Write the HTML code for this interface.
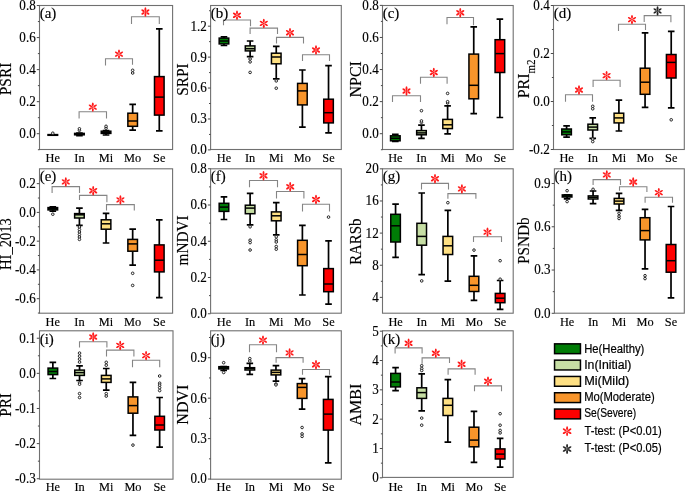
<!DOCTYPE html>
<html><head><meta charset="utf-8"><style>
html,body{margin:0;padding:0;background:#fff;}
svg{display:block;}
text{font-family:"Liberation Serif", serif;fill:#000;stroke:#000;stroke-width:0.15px;}
.sans{stroke-width:0.2px;}
svg{will-change:transform;}
.sans{font-family:"Liberation Sans", sans-serif;}
</style></head><body>
<svg width="685" height="491" viewBox="0 0 685 491">
<rect width="685" height="491" fill="#fff"/>
<path d="M52.81 135.2V135.3M52.81 134.6V134.8M49.51 135.2H56.11M49.51 134.8H56.11" stroke="#000" stroke-width="1.7" fill="none"/>
<rect x="48.01" y="134.6" width="9.6" height="0.7" fill="#007c06" stroke="#000" stroke-width="1.5"/>
<path d="M48.01 135H57.61" stroke="#000" stroke-width="1.5"/>
<circle cx="52.81" cy="133.2" r="1.3" fill="#fff" stroke="#1a1a1a" stroke-width="0.95"/>
<path d="M79.43 135.6V134.8M79.43 133.4V133M76.13 135.6H82.73M76.13 133H82.73" stroke="#000" stroke-width="1.7" fill="none"/>
<rect x="74.63" y="133.4" width="9.6" height="1.4" fill="#c6dea4" stroke="#000" stroke-width="1.5"/>
<path d="M74.63 134.1H84.23" stroke="#000" stroke-width="1.5"/>
<circle cx="79.43" cy="130.3" r="1.3" fill="#fff" stroke="#1a1a1a" stroke-width="0.95"/>
<circle cx="79.43" cy="128.8" r="1.3" fill="#fff" stroke="#1a1a1a" stroke-width="0.95"/>
<path d="M106.05 135V133.4M106.05 131.2V130.5M102.75 135H109.35M102.75 130.5H109.35" stroke="#000" stroke-width="1.7" fill="none"/>
<rect x="101.25" y="131.2" width="9.6" height="2.2" fill="#fee083" stroke="#000" stroke-width="1.5"/>
<path d="M101.25 132.3H110.85" stroke="#000" stroke-width="1.5"/>
<circle cx="106.05" cy="128.2" r="1.3" fill="#fff" stroke="#1a1a1a" stroke-width="0.95"/>
<circle cx="106.05" cy="126.3" r="1.3" fill="#fff" stroke="#1a1a1a" stroke-width="0.95"/>
<path d="M132.67 130.2V126.3M132.67 113.2V104.4M129.37 130.2H135.97M129.37 104.4H135.97" stroke="#000" stroke-width="1.7" fill="none"/>
<rect x="127.87" y="113.2" width="9.6" height="13.1" fill="#f8952b" stroke="#000" stroke-width="1.5"/>
<path d="M127.87 121H137.47" stroke="#000" stroke-width="1.5"/>
<circle cx="132.67" cy="73" r="1.3" fill="#fff" stroke="#1a1a1a" stroke-width="0.95"/>
<circle cx="132.67" cy="70.3" r="1.3" fill="#fff" stroke="#1a1a1a" stroke-width="0.95"/>
<path d="M159.29 130.8V115.1M159.29 76.6V28.9M155.99 130.8H162.59M155.99 28.9H162.59" stroke="#000" stroke-width="1.7" fill="none"/>
<rect x="154.49" y="76.6" width="9.6" height="38.5" fill="#fe0000" stroke="#000" stroke-width="1.5"/>
<path d="M154.49 97.1H164.09" stroke="#000" stroke-width="1.5"/>
<path d="M79.1 118.5V111.8H106.5V118.5" stroke="#858585" stroke-width="1.1" fill="none"/>
<g transform="translate(92.8 107.1)" fill="#ff1a1a"><ellipse cx="2.76" cy="0" rx="1.93" ry="0.95" transform="rotate(90)"/><ellipse cx="2.76" cy="0" rx="1.93" ry="0.95" transform="rotate(150)"/><ellipse cx="2.76" cy="0" rx="1.93" ry="0.95" transform="rotate(210)"/><ellipse cx="2.76" cy="0" rx="1.93" ry="0.95" transform="rotate(270)"/><ellipse cx="2.76" cy="0" rx="1.93" ry="0.95" transform="rotate(330)"/><ellipse cx="2.76" cy="0" rx="1.93" ry="0.95" transform="rotate(30)"/><circle r="0.9"/></g>
<path d="M105.5 65.6V58.8H132.5V64.7" stroke="#858585" stroke-width="1.1" fill="none"/>
<g transform="translate(119 54.1)" fill="#ff1a1a"><ellipse cx="2.76" cy="0" rx="1.93" ry="0.95" transform="rotate(90)"/><ellipse cx="2.76" cy="0" rx="1.93" ry="0.95" transform="rotate(150)"/><ellipse cx="2.76" cy="0" rx="1.93" ry="0.95" transform="rotate(210)"/><ellipse cx="2.76" cy="0" rx="1.93" ry="0.95" transform="rotate(270)"/><ellipse cx="2.76" cy="0" rx="1.93" ry="0.95" transform="rotate(330)"/><ellipse cx="2.76" cy="0" rx="1.93" ry="0.95" transform="rotate(30)"/><circle r="0.9"/></g>
<path d="M131.5 24V16.7H159.3V24" stroke="#858585" stroke-width="1.1" fill="none"/>
<g transform="translate(145.4 12)" fill="#ff1a1a"><ellipse cx="2.76" cy="0" rx="1.93" ry="0.95" transform="rotate(90)"/><ellipse cx="2.76" cy="0" rx="1.93" ry="0.95" transform="rotate(150)"/><ellipse cx="2.76" cy="0" rx="1.93" ry="0.95" transform="rotate(210)"/><ellipse cx="2.76" cy="0" rx="1.93" ry="0.95" transform="rotate(270)"/><ellipse cx="2.76" cy="0" rx="1.93" ry="0.95" transform="rotate(330)"/><ellipse cx="2.76" cy="0" rx="1.93" ry="0.95" transform="rotate(30)"/><circle r="0.9"/></g>
<rect x="39.5" y="5.5" width="133.1" height="144" fill="none" stroke="#707070" stroke-width="1.1"/>
<text transform="translate(35.7 138.1) scale(0.97 1.06)" text-anchor="end" class="tk" font-size="13.5">0.0</text>
<text transform="translate(35.7 106.06) scale(0.97 1.06)" text-anchor="end" class="tk" font-size="13.5">0.2</text>
<text transform="translate(35.7 74.02) scale(0.97 1.06)" text-anchor="end" class="tk" font-size="13.5">0.4</text>
<text transform="translate(35.7 41.98) scale(0.97 1.06)" text-anchor="end" class="tk" font-size="13.5">0.6</text>
<text transform="translate(35.7 9.94) scale(0.97 1.06)" text-anchor="end" class="tk" font-size="13.5">0.8</text>
<path d="M36.8 133.7H39.5M36.8 101.66H39.5M36.8 69.62H39.5M36.8 37.58H39.5M36.8 5.54H39.5M37.9 149.72H39.5M37.9 117.68H39.5M37.9 85.64H39.5M37.9 53.6H39.5M37.9 21.56H39.5" stroke="#4a4a4a" stroke-width="1"/>
<text transform="translate(52.81 162) scale(0.95 1.03)" text-anchor="middle" class="ct" font-size="13">He</text>
<text transform="translate(79.43 162) scale(0.95 1.03)" text-anchor="middle" class="ct" font-size="13">In</text>
<text transform="translate(106.05 162) scale(0.95 1.03)" text-anchor="middle" class="ct" font-size="13">Mi</text>
<text transform="translate(132.67 162) scale(0.95 1.03)" text-anchor="middle" class="ct" font-size="13">Mo</text>
<text transform="translate(159.29 162) scale(0.95 1.03)" text-anchor="middle" class="ct" font-size="13">Se</text>
<text transform="translate(39.7 17.8) scale(1.0 0.98)" class="lb" font-size="15">(a)</text>
<text transform="translate(10.6 78.95) rotate(-90) scale(1.0 1.07)" text-anchor="middle" class="ti" font-size="16" textLength="32.45" lengthAdjust="spacingAndGlyphs">PSRI</text>
<path d="M223.97 45.5V43.9M223.97 38.1V36.8M220.67 45.5H227.27M220.67 36.8H227.27" stroke="#000" stroke-width="1.7" fill="none"/>
<rect x="219.17" y="38.1" width="9.6" height="5.8" fill="#007c06" stroke="#000" stroke-width="1.5"/>
<path d="M219.17 41H228.77" stroke="#000" stroke-width="1.5"/>
<path d="M250.11 56.6V50.9M250.11 45.9V41M246.81 56.6H253.41M246.81 41H253.41" stroke="#000" stroke-width="1.7" fill="none"/>
<rect x="245.31" y="45.9" width="9.6" height="5" fill="#c6dea4" stroke="#000" stroke-width="1.5"/>
<path d="M245.31 48.7H254.91" stroke="#000" stroke-width="1.5"/>
<circle cx="250.11" cy="59" r="1.3" fill="#fff" stroke="#1a1a1a" stroke-width="0.95"/>
<circle cx="250.11" cy="61.9" r="1.3" fill="#fff" stroke="#1a1a1a" stroke-width="0.95"/>
<circle cx="250.11" cy="72.4" r="1.3" fill="#fff" stroke="#1a1a1a" stroke-width="0.95"/>
<path d="M276.25 78.9V63.8M276.25 53.2V46.4M272.95 78.9H279.55M272.95 46.4H279.55" stroke="#000" stroke-width="1.7" fill="none"/>
<rect x="271.45" y="53.2" width="9.6" height="10.6" fill="#fee083" stroke="#000" stroke-width="1.5"/>
<path d="M271.45 57H281.05" stroke="#000" stroke-width="1.5"/>
<circle cx="276.25" cy="80.9" r="1.3" fill="#fff" stroke="#1a1a1a" stroke-width="0.95"/>
<circle cx="276.25" cy="88.2" r="1.3" fill="#fff" stroke="#1a1a1a" stroke-width="0.95"/>
<path d="M302.39 127.1V104.9M302.39 83.4V70M299.09 127.1H305.69M299.09 70H305.69" stroke="#000" stroke-width="1.7" fill="none"/>
<rect x="297.59" y="83.4" width="9.6" height="21.5" fill="#f8952b" stroke="#000" stroke-width="1.5"/>
<path d="M297.59 90.9H307.19" stroke="#000" stroke-width="1.5"/>
<path d="M328.53 132.9V122.9M328.53 99.2V65.7M325.23 132.9H331.83M325.23 65.7H331.83" stroke="#000" stroke-width="1.7" fill="none"/>
<rect x="323.73" y="99.2" width="9.6" height="23.7" fill="#fe0000" stroke="#000" stroke-width="1.5"/>
<path d="M323.73 112.7H333.33" stroke="#000" stroke-width="1.5"/>
<path d="M223.5 25.2V20H250.5V26.2" stroke="#858585" stroke-width="1.1" fill="none"/>
<g transform="translate(237 15.3)" fill="#ff1a1a"><ellipse cx="2.76" cy="0" rx="1.93" ry="0.95" transform="rotate(90)"/><ellipse cx="2.76" cy="0" rx="1.93" ry="0.95" transform="rotate(150)"/><ellipse cx="2.76" cy="0" rx="1.93" ry="0.95" transform="rotate(210)"/><ellipse cx="2.76" cy="0" rx="1.93" ry="0.95" transform="rotate(270)"/><ellipse cx="2.76" cy="0" rx="1.93" ry="0.95" transform="rotate(330)"/><ellipse cx="2.76" cy="0" rx="1.93" ry="0.95" transform="rotate(30)"/><circle r="0.9"/></g>
<path d="M250.1 33.9V28.1H277.5V33.9" stroke="#858585" stroke-width="1.1" fill="none"/>
<g transform="translate(263.8 23.4)" fill="#ff1a1a"><ellipse cx="2.76" cy="0" rx="1.93" ry="0.95" transform="rotate(90)"/><ellipse cx="2.76" cy="0" rx="1.93" ry="0.95" transform="rotate(150)"/><ellipse cx="2.76" cy="0" rx="1.93" ry="0.95" transform="rotate(210)"/><ellipse cx="2.76" cy="0" rx="1.93" ry="0.95" transform="rotate(270)"/><ellipse cx="2.76" cy="0" rx="1.93" ry="0.95" transform="rotate(330)"/><ellipse cx="2.76" cy="0" rx="1.93" ry="0.95" transform="rotate(30)"/><circle r="0.9"/></g>
<path d="M276.5 43.5V37.4H303.5V43.5" stroke="#858585" stroke-width="1.1" fill="none"/>
<g transform="translate(290 32.7)" fill="#ff1a1a"><ellipse cx="2.76" cy="0" rx="1.93" ry="0.95" transform="rotate(90)"/><ellipse cx="2.76" cy="0" rx="1.93" ry="0.95" transform="rotate(150)"/><ellipse cx="2.76" cy="0" rx="1.93" ry="0.95" transform="rotate(210)"/><ellipse cx="2.76" cy="0" rx="1.93" ry="0.95" transform="rotate(270)"/><ellipse cx="2.76" cy="0" rx="1.93" ry="0.95" transform="rotate(330)"/><ellipse cx="2.76" cy="0" rx="1.93" ry="0.95" transform="rotate(30)"/><circle r="0.9"/></g>
<path d="M302.5 60.9V54.7H329.5V60.9" stroke="#858585" stroke-width="1.1" fill="none"/>
<g transform="translate(316 50)" fill="#ff1a1a"><ellipse cx="2.76" cy="0" rx="1.93" ry="0.95" transform="rotate(90)"/><ellipse cx="2.76" cy="0" rx="1.93" ry="0.95" transform="rotate(150)"/><ellipse cx="2.76" cy="0" rx="1.93" ry="0.95" transform="rotate(210)"/><ellipse cx="2.76" cy="0" rx="1.93" ry="0.95" transform="rotate(270)"/><ellipse cx="2.76" cy="0" rx="1.93" ry="0.95" transform="rotate(330)"/><ellipse cx="2.76" cy="0" rx="1.93" ry="0.95" transform="rotate(30)"/><circle r="0.9"/></g>
<rect x="210.6" y="5.5" width="130.7" height="144" fill="none" stroke="#707070" stroke-width="1.1"/>
<text transform="translate(206.8 154.3) scale(0.97 1.06)" text-anchor="end" class="tk" font-size="13.5">0.0</text>
<text transform="translate(206.8 123.37) scale(0.97 1.06)" text-anchor="end" class="tk" font-size="13.5">0.3</text>
<text transform="translate(206.8 92.44) scale(0.97 1.06)" text-anchor="end" class="tk" font-size="13.5">0.6</text>
<text transform="translate(206.8 61.51) scale(0.97 1.06)" text-anchor="end" class="tk" font-size="13.5">0.9</text>
<text transform="translate(206.8 30.58) scale(0.97 1.06)" text-anchor="end" class="tk" font-size="13.5">1.2</text>
<path d="M207.9 149.9H210.6M207.9 118.97H210.6M207.9 88.04H210.6M207.9 57.11H210.6M207.9 26.18H210.6M209 134.44H210.6M209 103.51H210.6M209 72.58H210.6M209 41.65H210.6M209 10.72H210.6" stroke="#4a4a4a" stroke-width="1"/>
<text transform="translate(223.97 162) scale(0.95 1.03)" text-anchor="middle" class="ct" font-size="13">He</text>
<text transform="translate(250.11 162) scale(0.95 1.03)" text-anchor="middle" class="ct" font-size="13">In</text>
<text transform="translate(276.25 162) scale(0.95 1.03)" text-anchor="middle" class="ct" font-size="13">Mi</text>
<text transform="translate(302.39 162) scale(0.95 1.03)" text-anchor="middle" class="ct" font-size="13">Mo</text>
<text transform="translate(328.53 162) scale(0.95 1.03)" text-anchor="middle" class="ct" font-size="13">Se</text>
<text transform="translate(210.8 17.8) scale(1.0 0.98)" class="lb" font-size="15">(b)</text>
<text transform="translate(187.5 79.5) rotate(-90) scale(1.0 1.07)" text-anchor="middle" class="ti" font-size="16" textLength="32.35" lengthAdjust="spacingAndGlyphs">SRPI</text>
<path d="M395.32 141.5V140.8M395.32 135.8V134.4M392.02 141.5H398.62M392.02 134.4H398.62" stroke="#000" stroke-width="1.7" fill="none"/>
<rect x="390.52" y="135.8" width="9.6" height="5" fill="#007c06" stroke="#000" stroke-width="1.5"/>
<path d="M390.52 138.3H400.12" stroke="#000" stroke-width="1.5"/>
<path d="M421.46 138.3V134.8M421.46 130.6V125.2M418.16 138.3H424.76M418.16 125.2H424.76" stroke="#000" stroke-width="1.7" fill="none"/>
<rect x="416.66" y="130.6" width="9.6" height="4.2" fill="#c6dea4" stroke="#000" stroke-width="1.5"/>
<path d="M416.66 132.9H426.26" stroke="#000" stroke-width="1.5"/>
<circle cx="421.46" cy="122.3" r="1.3" fill="#fff" stroke="#1a1a1a" stroke-width="0.95"/>
<circle cx="421.46" cy="120.9" r="1.3" fill="#fff" stroke="#1a1a1a" stroke-width="0.95"/>
<circle cx="421.46" cy="110.7" r="1.3" fill="#fff" stroke="#1a1a1a" stroke-width="0.95"/>
<path d="M447.6 133.9V128.6M447.6 119.4V105.9M444.3 133.9H450.9M444.3 105.9H450.9" stroke="#000" stroke-width="1.7" fill="none"/>
<rect x="442.8" y="119.4" width="9.6" height="9.2" fill="#fee083" stroke="#000" stroke-width="1.5"/>
<path d="M442.8 124.8H452.4" stroke="#000" stroke-width="1.5"/>
<circle cx="447.6" cy="103" r="1.3" fill="#fff" stroke="#1a1a1a" stroke-width="0.95"/>
<circle cx="447.6" cy="101.7" r="1.3" fill="#fff" stroke="#1a1a1a" stroke-width="0.95"/>
<circle cx="447.6" cy="93.4" r="1.3" fill="#fff" stroke="#1a1a1a" stroke-width="0.95"/>
<path d="M473.74 113.6V98.8M473.74 54.1V26.8M470.44 113.6H477.04M470.44 26.8H477.04" stroke="#000" stroke-width="1.7" fill="none"/>
<rect x="468.94" y="54.1" width="9.6" height="44.7" fill="#f8952b" stroke="#000" stroke-width="1.5"/>
<path d="M468.94 85.3H478.54" stroke="#000" stroke-width="1.5"/>
<path d="M499.88 117.5V72.5M499.88 39.7V19.1M496.58 117.5H503.18M496.58 19.1H503.18" stroke="#000" stroke-width="1.7" fill="none"/>
<rect x="495.08" y="39.7" width="9.6" height="32.8" fill="#fe0000" stroke="#000" stroke-width="1.5"/>
<path d="M495.08 53.6H504.68" stroke="#000" stroke-width="1.5"/>
<path d="M392.5 102V95.7H420.5V102" stroke="#858585" stroke-width="1.1" fill="none"/>
<g transform="translate(406.5 91)" fill="#ff1a1a"><ellipse cx="2.76" cy="0" rx="1.93" ry="0.95" transform="rotate(90)"/><ellipse cx="2.76" cy="0" rx="1.93" ry="0.95" transform="rotate(150)"/><ellipse cx="2.76" cy="0" rx="1.93" ry="0.95" transform="rotate(210)"/><ellipse cx="2.76" cy="0" rx="1.93" ry="0.95" transform="rotate(270)"/><ellipse cx="2.76" cy="0" rx="1.93" ry="0.95" transform="rotate(330)"/><ellipse cx="2.76" cy="0" rx="1.93" ry="0.95" transform="rotate(30)"/><circle r="0.9"/></g>
<path d="M420.5 83.7V77.2H447.1V83.7" stroke="#858585" stroke-width="1.1" fill="none"/>
<g transform="translate(433.8 72.5)" fill="#ff1a1a"><ellipse cx="2.76" cy="0" rx="1.93" ry="0.95" transform="rotate(90)"/><ellipse cx="2.76" cy="0" rx="1.93" ry="0.95" transform="rotate(150)"/><ellipse cx="2.76" cy="0" rx="1.93" ry="0.95" transform="rotate(210)"/><ellipse cx="2.76" cy="0" rx="1.93" ry="0.95" transform="rotate(270)"/><ellipse cx="2.76" cy="0" rx="1.93" ry="0.95" transform="rotate(330)"/><ellipse cx="2.76" cy="0" rx="1.93" ry="0.95" transform="rotate(30)"/><circle r="0.9"/></g>
<path d="M447 24.3V17.5H473.5V25.2" stroke="#858585" stroke-width="1.1" fill="none"/>
<g transform="translate(460.25 12.8)" fill="#ff1a1a"><ellipse cx="2.76" cy="0" rx="1.93" ry="0.95" transform="rotate(90)"/><ellipse cx="2.76" cy="0" rx="1.93" ry="0.95" transform="rotate(150)"/><ellipse cx="2.76" cy="0" rx="1.93" ry="0.95" transform="rotate(210)"/><ellipse cx="2.76" cy="0" rx="1.93" ry="0.95" transform="rotate(270)"/><ellipse cx="2.76" cy="0" rx="1.93" ry="0.95" transform="rotate(330)"/><ellipse cx="2.76" cy="0" rx="1.93" ry="0.95" transform="rotate(30)"/><circle r="0.9"/></g>
<rect x="382.5" y="5.5" width="130.7" height="144" fill="none" stroke="#707070" stroke-width="1.1"/>
<text transform="translate(378.7 138.1) scale(0.97 1.06)" text-anchor="end" class="tk" font-size="13.5">0.0</text>
<text transform="translate(378.7 106.02) scale(0.97 1.06)" text-anchor="end" class="tk" font-size="13.5">0.2</text>
<text transform="translate(378.7 73.94) scale(0.97 1.06)" text-anchor="end" class="tk" font-size="13.5">0.4</text>
<text transform="translate(378.7 41.86) scale(0.97 1.06)" text-anchor="end" class="tk" font-size="13.5">0.6</text>
<text transform="translate(378.7 9.78) scale(0.97 1.06)" text-anchor="end" class="tk" font-size="13.5">0.8</text>
<path d="M379.8 133.7H382.5M379.8 101.62H382.5M379.8 69.54H382.5M379.8 37.46H382.5M379.8 5.38H382.5M380.9 149.74H382.5M380.9 117.66H382.5M380.9 85.58H382.5M380.9 53.5H382.5M380.9 21.42H382.5" stroke="#4a4a4a" stroke-width="1"/>
<text transform="translate(395.32 162) scale(0.95 1.03)" text-anchor="middle" class="ct" font-size="13">He</text>
<text transform="translate(421.46 162) scale(0.95 1.03)" text-anchor="middle" class="ct" font-size="13">In</text>
<text transform="translate(447.6 162) scale(0.95 1.03)" text-anchor="middle" class="ct" font-size="13">Mi</text>
<text transform="translate(473.74 162) scale(0.95 1.03)" text-anchor="middle" class="ct" font-size="13">Mo</text>
<text transform="translate(499.88 162) scale(0.95 1.03)" text-anchor="middle" class="ct" font-size="13">Se</text>
<text transform="translate(382.7 17.8) scale(1.0 0.98)" class="lb" font-size="15">(c)</text>
<text transform="translate(360.9 79.35) rotate(-90) scale(1.0 1.07)" text-anchor="middle" class="ti" font-size="16">NPCI</text>
<path d="M566.58 137.1V134.8M566.58 129V125.8M563.28 137.1H569.88M563.28 125.8H569.88" stroke="#000" stroke-width="1.7" fill="none"/>
<rect x="561.78" y="129" width="9.6" height="5.8" fill="#007c06" stroke="#000" stroke-width="1.5"/>
<path d="M561.78 131.9H571.38" stroke="#000" stroke-width="1.5"/>
<path d="M592.74 138.3V130M592.74 124.2V117.9M589.44 138.3H596.04M589.44 117.9H596.04" stroke="#000" stroke-width="1.7" fill="none"/>
<rect x="587.94" y="124.2" width="9.6" height="5.8" fill="#c6dea4" stroke="#000" stroke-width="1.5"/>
<path d="M587.94 127.1H597.54" stroke="#000" stroke-width="1.5"/>
<circle cx="592.74" cy="106.3" r="1.3" fill="#fff" stroke="#1a1a1a" stroke-width="0.95"/>
<circle cx="592.74" cy="108.8" r="1.3" fill="#fff" stroke="#1a1a1a" stroke-width="0.95"/>
<circle cx="592.74" cy="139.1" r="1.3" fill="#fff" stroke="#1a1a1a" stroke-width="0.95"/>
<circle cx="592.74" cy="141.6" r="1.3" fill="#fff" stroke="#1a1a1a" stroke-width="0.95"/>
<path d="M618.9 131V122.9M618.9 113.2V100.1M615.6 131H622.2M615.6 100.1H622.2" stroke="#000" stroke-width="1.7" fill="none"/>
<rect x="614.1" y="113.2" width="9.6" height="9.7" fill="#fee083" stroke="#000" stroke-width="1.5"/>
<path d="M614.1 117.9H623.7" stroke="#000" stroke-width="1.5"/>
<path d="M645.06 107.3V94.3M645.06 68.2V32.9M641.76 107.3H648.36M641.76 32.9H648.36" stroke="#000" stroke-width="1.7" fill="none"/>
<rect x="640.26" y="68.2" width="9.6" height="26.1" fill="#f8952b" stroke="#000" stroke-width="1.5"/>
<path d="M640.26 82.2H649.86" stroke="#000" stroke-width="1.5"/>
<path d="M671.22 107.8V78M671.22 54.5V31.4M667.92 107.8H674.52M667.92 31.4H674.52" stroke="#000" stroke-width="1.7" fill="none"/>
<rect x="666.42" y="54.5" width="9.6" height="23.5" fill="#fe0000" stroke="#000" stroke-width="1.5"/>
<path d="M666.42 62.4H676.02" stroke="#000" stroke-width="1.5"/>
<circle cx="671.22" cy="119.8" r="1.3" fill="#fff" stroke="#1a1a1a" stroke-width="0.95"/>
<path d="M565.5 101.7V94.7H592.5V101.7" stroke="#858585" stroke-width="1.1" fill="none"/>
<g transform="translate(579 90)" fill="#ff1a1a"><ellipse cx="2.76" cy="0" rx="1.93" ry="0.95" transform="rotate(90)"/><ellipse cx="2.76" cy="0" rx="1.93" ry="0.95" transform="rotate(150)"/><ellipse cx="2.76" cy="0" rx="1.93" ry="0.95" transform="rotate(210)"/><ellipse cx="2.76" cy="0" rx="1.93" ry="0.95" transform="rotate(270)"/><ellipse cx="2.76" cy="0" rx="1.93" ry="0.95" transform="rotate(330)"/><ellipse cx="2.76" cy="0" rx="1.93" ry="0.95" transform="rotate(30)"/><circle r="0.9"/></g>
<path d="M593.1 87V80.3H620.1V87" stroke="#858585" stroke-width="1.1" fill="none"/>
<g transform="translate(606.6 75.6)" fill="#ff1a1a"><ellipse cx="2.76" cy="0" rx="1.93" ry="0.95" transform="rotate(90)"/><ellipse cx="2.76" cy="0" rx="1.93" ry="0.95" transform="rotate(150)"/><ellipse cx="2.76" cy="0" rx="1.93" ry="0.95" transform="rotate(210)"/><ellipse cx="2.76" cy="0" rx="1.93" ry="0.95" transform="rotate(270)"/><ellipse cx="2.76" cy="0" rx="1.93" ry="0.95" transform="rotate(330)"/><ellipse cx="2.76" cy="0" rx="1.93" ry="0.95" transform="rotate(30)"/><circle r="0.9"/></g>
<path d="M618.5 31V24.3H645.5V30" stroke="#858585" stroke-width="1.1" fill="none"/>
<g transform="translate(632 19.6)" fill="#ff1a1a"><ellipse cx="2.76" cy="0" rx="1.93" ry="0.95" transform="rotate(90)"/><ellipse cx="2.76" cy="0" rx="1.93" ry="0.95" transform="rotate(150)"/><ellipse cx="2.76" cy="0" rx="1.93" ry="0.95" transform="rotate(210)"/><ellipse cx="2.76" cy="0" rx="1.93" ry="0.95" transform="rotate(270)"/><ellipse cx="2.76" cy="0" rx="1.93" ry="0.95" transform="rotate(330)"/><ellipse cx="2.76" cy="0" rx="1.93" ry="0.95" transform="rotate(30)"/><circle r="0.9"/></g>
<path d="M644.2 22V15.6H670.9V22.3" stroke="#858585" stroke-width="1.1" fill="none"/>
<g transform="translate(657.55 10.9)" fill="#222"><ellipse cx="2.76" cy="0" rx="1.93" ry="0.95" transform="rotate(90)"/><ellipse cx="2.76" cy="0" rx="1.93" ry="0.95" transform="rotate(150)"/><ellipse cx="2.76" cy="0" rx="1.93" ry="0.95" transform="rotate(210)"/><ellipse cx="2.76" cy="0" rx="1.93" ry="0.95" transform="rotate(270)"/><ellipse cx="2.76" cy="0" rx="1.93" ry="0.95" transform="rotate(330)"/><ellipse cx="2.76" cy="0" rx="1.93" ry="0.95" transform="rotate(30)"/><circle r="0.9"/></g>
<rect x="553.5" y="5.5" width="130.8" height="144" fill="none" stroke="#707070" stroke-width="1.1"/>
<text transform="translate(549.7 153.9) scale(0.97 1.06)" text-anchor="end" class="tk" font-size="13.5">-0.2</text>
<text transform="translate(549.7 105.9) scale(0.97 1.06)" text-anchor="end" class="tk" font-size="13.5">0.0</text>
<text transform="translate(549.7 57.9) scale(0.97 1.06)" text-anchor="end" class="tk" font-size="13.5">0.2</text>
<text transform="translate(549.7 9.9) scale(0.97 1.06)" text-anchor="end" class="tk" font-size="13.5">0.4</text>
<path d="M550.8 149.5H553.5M550.8 101.5H553.5M550.8 53.5H553.5M550.8 5.5H553.5M551.9 125.5H553.5M551.9 77.5H553.5M551.9 29.5H553.5" stroke="#4a4a4a" stroke-width="1"/>
<text transform="translate(566.58 162) scale(0.95 1.03)" text-anchor="middle" class="ct" font-size="13">He</text>
<text transform="translate(592.74 162) scale(0.95 1.03)" text-anchor="middle" class="ct" font-size="13">In</text>
<text transform="translate(618.9 162) scale(0.95 1.03)" text-anchor="middle" class="ct" font-size="13">Mi</text>
<text transform="translate(645.06 162) scale(0.95 1.03)" text-anchor="middle" class="ct" font-size="13">Mo</text>
<text transform="translate(671.22 162) scale(0.95 1.03)" text-anchor="middle" class="ct" font-size="13">Se</text>
<text transform="translate(553.7 17.8) scale(1.0 0.98)" class="lb" font-size="15">(d)</text>
<text transform="translate(529.3 78.9) rotate(-90) scale(1.0 1.07)" text-anchor="middle" class="ti" font-size="16">PRI<tspan font-size="11" dy="5">m2</tspan></text>
<path d="M52.81 211.2V209.9M52.81 207.6V206.8M49.51 211.2H56.11M49.51 206.8H56.11" stroke="#000" stroke-width="1.7" fill="none"/>
<rect x="48.01" y="207.6" width="9.6" height="2.3" fill="#007c06" stroke="#000" stroke-width="1.5"/>
<path d="M48.01 208.7H57.61" stroke="#000" stroke-width="1.5"/>
<circle cx="52.81" cy="214.2" r="1.3" fill="#fff" stroke="#1a1a1a" stroke-width="0.95"/>
<path d="M79.43 225.3V218M79.43 213.6V208.1M76.13 225.3H82.73M76.13 208.1H82.73" stroke="#000" stroke-width="1.7" fill="none"/>
<rect x="74.63" y="213.6" width="9.6" height="4.4" fill="#c6dea4" stroke="#000" stroke-width="1.5"/>
<path d="M74.63 214.8H84.23" stroke="#000" stroke-width="1.5"/>
<circle cx="79.43" cy="227" r="1.3" fill="#fff" stroke="#1a1a1a" stroke-width="0.95"/>
<circle cx="79.43" cy="229.5" r="1.3" fill="#fff" stroke="#1a1a1a" stroke-width="0.95"/>
<circle cx="79.43" cy="232" r="1.3" fill="#fff" stroke="#1a1a1a" stroke-width="0.95"/>
<circle cx="79.43" cy="234.5" r="1.3" fill="#fff" stroke="#1a1a1a" stroke-width="0.95"/>
<circle cx="79.43" cy="237" r="1.3" fill="#fff" stroke="#1a1a1a" stroke-width="0.95"/>
<circle cx="79.43" cy="239.4" r="1.3" fill="#fff" stroke="#1a1a1a" stroke-width="0.95"/>
<path d="M106.05 243V229.2M106.05 219.8V213.4M102.75 243H109.35M102.75 213.4H109.35" stroke="#000" stroke-width="1.7" fill="none"/>
<rect x="101.25" y="219.8" width="9.6" height="9.4" fill="#fee083" stroke="#000" stroke-width="1.5"/>
<path d="M101.25 223.8H110.85" stroke="#000" stroke-width="1.5"/>
<path d="M132.67 265.1V251.2M132.67 239.4V229.2M129.37 265.1H135.97M129.37 229.2H135.97" stroke="#000" stroke-width="1.7" fill="none"/>
<rect x="127.87" y="239.4" width="9.6" height="11.8" fill="#f8952b" stroke="#000" stroke-width="1.5"/>
<path d="M127.87 243.9H137.47" stroke="#000" stroke-width="1.5"/>
<circle cx="132.67" cy="273.3" r="1.3" fill="#fff" stroke="#1a1a1a" stroke-width="0.95"/>
<circle cx="132.67" cy="285.4" r="1.3" fill="#fff" stroke="#1a1a1a" stroke-width="0.95"/>
<path d="M159.29 297.7V271.9M159.29 244.9V219.8M155.99 297.7H162.59M155.99 219.8H162.59" stroke="#000" stroke-width="1.7" fill="none"/>
<rect x="154.49" y="244.9" width="9.6" height="27" fill="#fe0000" stroke="#000" stroke-width="1.5"/>
<path d="M154.49 260.2H164.09" stroke="#000" stroke-width="1.5"/>
<path d="M52.1 193V186.6H79.5V193" stroke="#858585" stroke-width="1.1" fill="none"/>
<g transform="translate(65.8 181.9)" fill="#ff1a1a"><ellipse cx="2.76" cy="0" rx="1.93" ry="0.95" transform="rotate(90)"/><ellipse cx="2.76" cy="0" rx="1.93" ry="0.95" transform="rotate(150)"/><ellipse cx="2.76" cy="0" rx="1.93" ry="0.95" transform="rotate(210)"/><ellipse cx="2.76" cy="0" rx="1.93" ry="0.95" transform="rotate(270)"/><ellipse cx="2.76" cy="0" rx="1.93" ry="0.95" transform="rotate(330)"/><ellipse cx="2.76" cy="0" rx="1.93" ry="0.95" transform="rotate(30)"/><circle r="0.9"/></g>
<path d="M79.5 200V195.4H106.9V202.2" stroke="#858585" stroke-width="1.1" fill="none"/>
<g transform="translate(93.2 190.7)" fill="#ff1a1a"><ellipse cx="2.76" cy="0" rx="1.93" ry="0.95" transform="rotate(90)"/><ellipse cx="2.76" cy="0" rx="1.93" ry="0.95" transform="rotate(150)"/><ellipse cx="2.76" cy="0" rx="1.93" ry="0.95" transform="rotate(210)"/><ellipse cx="2.76" cy="0" rx="1.93" ry="0.95" transform="rotate(270)"/><ellipse cx="2.76" cy="0" rx="1.93" ry="0.95" transform="rotate(330)"/><ellipse cx="2.76" cy="0" rx="1.93" ry="0.95" transform="rotate(30)"/><circle r="0.9"/></g>
<path d="M106.5 210.6V204.6H134.3V210.6" stroke="#858585" stroke-width="1.1" fill="none"/>
<g transform="translate(120.4 199.9)" fill="#ff1a1a"><ellipse cx="2.76" cy="0" rx="1.93" ry="0.95" transform="rotate(90)"/><ellipse cx="2.76" cy="0" rx="1.93" ry="0.95" transform="rotate(150)"/><ellipse cx="2.76" cy="0" rx="1.93" ry="0.95" transform="rotate(210)"/><ellipse cx="2.76" cy="0" rx="1.93" ry="0.95" transform="rotate(270)"/><ellipse cx="2.76" cy="0" rx="1.93" ry="0.95" transform="rotate(330)"/><ellipse cx="2.76" cy="0" rx="1.93" ry="0.95" transform="rotate(30)"/><circle r="0.9"/></g>
<rect x="39.5" y="168.8" width="133.1" height="144.4" fill="none" stroke="#707070" stroke-width="1.1"/>
<text transform="translate(35.7 188.04) scale(0.97 1.06)" text-anchor="end" class="tk" font-size="13.5">0.2</text>
<text transform="translate(35.7 216.8) scale(0.97 1.06)" text-anchor="end" class="tk" font-size="13.5">0.0</text>
<text transform="translate(35.7 245.56) scale(0.97 1.06)" text-anchor="end" class="tk" font-size="13.5">-0.2</text>
<text transform="translate(35.7 274.32) scale(0.97 1.06)" text-anchor="end" class="tk" font-size="13.5">-0.4</text>
<text transform="translate(35.7 303.08) scale(0.97 1.06)" text-anchor="end" class="tk" font-size="13.5">-0.6</text>
<path d="M36.8 183.64H39.5M36.8 212.4H39.5M36.8 241.16H39.5M36.8 269.92H39.5M36.8 298.68H39.5M37.9 198.02H39.5M37.9 226.78H39.5M37.9 255.54H39.5M37.9 284.3H39.5M37.9 313.06H39.5" stroke="#4a4a4a" stroke-width="1"/>
<text transform="translate(52.81 325.5) scale(0.95 1.03)" text-anchor="middle" class="ct" font-size="13">He</text>
<text transform="translate(79.43 325.5) scale(0.95 1.03)" text-anchor="middle" class="ct" font-size="13">In</text>
<text transform="translate(106.05 325.5) scale(0.95 1.03)" text-anchor="middle" class="ct" font-size="13">Mi</text>
<text transform="translate(132.67 325.5) scale(0.95 1.03)" text-anchor="middle" class="ct" font-size="13">Mo</text>
<text transform="translate(159.29 325.5) scale(0.95 1.03)" text-anchor="middle" class="ct" font-size="13">Se</text>
<text transform="translate(39.7 181.1) scale(1.0 0.98)" class="lb" font-size="15">(e)</text>
<text transform="translate(10.6 244.1) rotate(-90) scale(1.0 1.07)" text-anchor="middle" class="ti" font-size="16" textLength="51.77" lengthAdjust="spacingAndGlyphs">HI_2013</text>
<path d="M223.97 219.5V211.4M223.97 203.3V196.9M220.67 219.5H227.27M220.67 196.9H227.27" stroke="#000" stroke-width="1.7" fill="none"/>
<rect x="219.17" y="203.3" width="9.6" height="8.1" fill="#007c06" stroke="#000" stroke-width="1.5"/>
<path d="M219.17 207.1H228.77" stroke="#000" stroke-width="1.5"/>
<path d="M250.11 224.9V213.7M250.11 205.2V193.4M246.81 224.9H253.41M246.81 193.4H253.41" stroke="#000" stroke-width="1.7" fill="none"/>
<rect x="245.31" y="205.2" width="9.6" height="8.5" fill="#c6dea4" stroke="#000" stroke-width="1.5"/>
<path d="M245.31 208.1H254.91" stroke="#000" stroke-width="1.5"/>
<circle cx="250.11" cy="226.8" r="1.3" fill="#fff" stroke="#1a1a1a" stroke-width="0.95"/>
<circle cx="250.11" cy="240.2" r="1.3" fill="#fff" stroke="#1a1a1a" stroke-width="0.95"/>
<circle cx="250.11" cy="242.6" r="1.3" fill="#fff" stroke="#1a1a1a" stroke-width="0.95"/>
<circle cx="250.11" cy="250" r="1.3" fill="#fff" stroke="#1a1a1a" stroke-width="0.95"/>
<path d="M276.25 234.8V220.8M276.25 211.9V202.7M272.95 234.8H279.55M272.95 202.7H279.55" stroke="#000" stroke-width="1.7" fill="none"/>
<rect x="271.45" y="211.9" width="9.6" height="8.9" fill="#fee083" stroke="#000" stroke-width="1.5"/>
<path d="M271.45 215.8H281.05" stroke="#000" stroke-width="1.5"/>
<circle cx="276.25" cy="236.8" r="1.3" fill="#fff" stroke="#1a1a1a" stroke-width="0.95"/>
<circle cx="276.25" cy="239.8" r="1.3" fill="#fff" stroke="#1a1a1a" stroke-width="0.95"/>
<circle cx="276.25" cy="242" r="1.3" fill="#fff" stroke="#1a1a1a" stroke-width="0.95"/>
<circle cx="276.25" cy="246.5" r="1.3" fill="#fff" stroke="#1a1a1a" stroke-width="0.95"/>
<circle cx="276.25" cy="249.2" r="1.3" fill="#fff" stroke="#1a1a1a" stroke-width="0.95"/>
<path d="M302.39 295V265.7M302.39 240.3V225.4M299.09 295H305.69M299.09 225.4H305.69" stroke="#000" stroke-width="1.7" fill="none"/>
<rect x="297.59" y="240.3" width="9.6" height="25.4" fill="#f8952b" stroke="#000" stroke-width="1.5"/>
<path d="M297.59 254.5H307.19" stroke="#000" stroke-width="1.5"/>
<path d="M328.53 304.2V291.7M328.53 268.6V240.8M325.23 304.2H331.83M325.23 240.8H331.83" stroke="#000" stroke-width="1.7" fill="none"/>
<rect x="323.73" y="268.6" width="9.6" height="23.1" fill="#fe0000" stroke="#000" stroke-width="1.5"/>
<path d="M323.73 284H333.33" stroke="#000" stroke-width="1.5"/>
<circle cx="328.53" cy="217.1" r="1.3" fill="#fff" stroke="#1a1a1a" stroke-width="0.95"/>
<path d="M249.5 187.3V180.5H277.5V187.3" stroke="#858585" stroke-width="1.1" fill="none"/>
<g transform="translate(263.5 175.8)" fill="#ff1a1a"><ellipse cx="2.76" cy="0" rx="1.93" ry="0.95" transform="rotate(90)"/><ellipse cx="2.76" cy="0" rx="1.93" ry="0.95" transform="rotate(150)"/><ellipse cx="2.76" cy="0" rx="1.93" ry="0.95" transform="rotate(210)"/><ellipse cx="2.76" cy="0" rx="1.93" ry="0.95" transform="rotate(270)"/><ellipse cx="2.76" cy="0" rx="1.93" ry="0.95" transform="rotate(330)"/><ellipse cx="2.76" cy="0" rx="1.93" ry="0.95" transform="rotate(30)"/><circle r="0.9"/></g>
<path d="M276.5 198.4V191.5H303.9V198.4" stroke="#858585" stroke-width="1.1" fill="none"/>
<g transform="translate(290.2 186.8)" fill="#ff1a1a"><ellipse cx="2.76" cy="0" rx="1.93" ry="0.95" transform="rotate(90)"/><ellipse cx="2.76" cy="0" rx="1.93" ry="0.95" transform="rotate(150)"/><ellipse cx="2.76" cy="0" rx="1.93" ry="0.95" transform="rotate(210)"/><ellipse cx="2.76" cy="0" rx="1.93" ry="0.95" transform="rotate(270)"/><ellipse cx="2.76" cy="0" rx="1.93" ry="0.95" transform="rotate(330)"/><ellipse cx="2.76" cy="0" rx="1.93" ry="0.95" transform="rotate(30)"/><circle r="0.9"/></g>
<path d="M302.5 211.4V204.2H329.5V211.4" stroke="#858585" stroke-width="1.1" fill="none"/>
<g transform="translate(316 199.5)" fill="#ff1a1a"><ellipse cx="2.76" cy="0" rx="1.93" ry="0.95" transform="rotate(90)"/><ellipse cx="2.76" cy="0" rx="1.93" ry="0.95" transform="rotate(150)"/><ellipse cx="2.76" cy="0" rx="1.93" ry="0.95" transform="rotate(210)"/><ellipse cx="2.76" cy="0" rx="1.93" ry="0.95" transform="rotate(270)"/><ellipse cx="2.76" cy="0" rx="1.93" ry="0.95" transform="rotate(330)"/><ellipse cx="2.76" cy="0" rx="1.93" ry="0.95" transform="rotate(30)"/><circle r="0.9"/></g>
<rect x="210.6" y="168.8" width="130.7" height="144.4" fill="none" stroke="#707070" stroke-width="1.1"/>
<text transform="translate(206.8 318.15) scale(0.97 1.06)" text-anchor="end" class="tk" font-size="13.5">0.0</text>
<text transform="translate(206.8 281.9) scale(0.97 1.06)" text-anchor="end" class="tk" font-size="13.5">0.2</text>
<text transform="translate(206.8 245.65) scale(0.97 1.06)" text-anchor="end" class="tk" font-size="13.5">0.4</text>
<text transform="translate(206.8 209.4) scale(0.97 1.06)" text-anchor="end" class="tk" font-size="13.5">0.6</text>
<text transform="translate(206.8 173.15) scale(0.97 1.06)" text-anchor="end" class="tk" font-size="13.5">0.8</text>
<path d="M207.9 313.75H210.6M207.9 277.5H210.6M207.9 241.25H210.6M207.9 205H210.6M207.9 168.75H210.6M209 295.62H210.6M209 259.38H210.6M209 223.12H210.6M209 186.88H210.6" stroke="#4a4a4a" stroke-width="1"/>
<text transform="translate(223.97 325.5) scale(0.95 1.03)" text-anchor="middle" class="ct" font-size="13">He</text>
<text transform="translate(250.11 325.5) scale(0.95 1.03)" text-anchor="middle" class="ct" font-size="13">In</text>
<text transform="translate(276.25 325.5) scale(0.95 1.03)" text-anchor="middle" class="ct" font-size="13">Mi</text>
<text transform="translate(302.39 325.5) scale(0.95 1.03)" text-anchor="middle" class="ct" font-size="13">Mo</text>
<text transform="translate(328.53 325.5) scale(0.95 1.03)" text-anchor="middle" class="ct" font-size="13">Se</text>
<text transform="translate(210.8 181.1) scale(1.0 0.98)" class="lb" font-size="15">(f)</text>
<text transform="translate(187.5 240.4) rotate(-90) scale(1.0 1.07)" text-anchor="middle" class="ti" font-size="16" textLength="50.17" lengthAdjust="spacingAndGlyphs">mNDVI</text>
<path d="M395.57 257.4V242M395.57 214.3V204.2M392.27 257.4H398.87M392.27 204.2H398.87" stroke="#000" stroke-width="1.7" fill="none"/>
<rect x="390.77" y="214.3" width="9.6" height="27.7" fill="#007c06" stroke="#000" stroke-width="1.5"/>
<path d="M390.77 225.8H400.37" stroke="#000" stroke-width="1.5"/>
<path d="M421.71 274.7V245.2M421.71 223.3V193M418.41 274.7H425.01M418.41 193H425.01" stroke="#000" stroke-width="1.7" fill="none"/>
<rect x="416.91" y="223.3" width="9.6" height="21.9" fill="#c6dea4" stroke="#000" stroke-width="1.5"/>
<path d="M416.91 236.4H426.51" stroke="#000" stroke-width="1.5"/>
<circle cx="421.71" cy="280.9" r="1.3" fill="#fff" stroke="#1a1a1a" stroke-width="0.95"/>
<path d="M447.85 281.1V254.5M447.85 236.4V210.4M444.55 281.1H451.15M444.55 210.4H451.15" stroke="#000" stroke-width="1.7" fill="none"/>
<rect x="443.05" y="236.4" width="9.6" height="18.1" fill="#fee083" stroke="#000" stroke-width="1.5"/>
<path d="M443.05 245.8H452.65" stroke="#000" stroke-width="1.5"/>
<circle cx="447.85" cy="202.7" r="1.3" fill="#fff" stroke="#1a1a1a" stroke-width="0.95"/>
<path d="M473.99 300.4V291.5M473.99 276.3V255.8M470.69 300.4H477.29M470.69 255.8H477.29" stroke="#000" stroke-width="1.7" fill="none"/>
<rect x="469.19" y="276.3" width="9.6" height="15.2" fill="#f8952b" stroke="#000" stroke-width="1.5"/>
<path d="M469.19 285.3H478.79" stroke="#000" stroke-width="1.5"/>
<circle cx="473.99" cy="250.1" r="1.3" fill="#fff" stroke="#1a1a1a" stroke-width="0.95"/>
<path d="M500.13 309.4V302.7M500.13 293.4V280.5M496.83 309.4H503.43M496.83 280.5H503.43" stroke="#000" stroke-width="1.7" fill="none"/>
<rect x="495.33" y="293.4" width="9.6" height="9.3" fill="#fe0000" stroke="#000" stroke-width="1.5"/>
<path d="M495.33 298.2H504.93" stroke="#000" stroke-width="1.5"/>
<circle cx="500.13" cy="279.2" r="1.3" fill="#fff" stroke="#1a1a1a" stroke-width="0.95"/>
<circle cx="500.13" cy="260.7" r="1.3" fill="#fff" stroke="#1a1a1a" stroke-width="0.95"/>
<path d="M421.5 189.6V183.4H448.5V189.6" stroke="#858585" stroke-width="1.1" fill="none"/>
<g transform="translate(435 178.7)" fill="#ff1a1a"><ellipse cx="2.76" cy="0" rx="1.93" ry="0.95" transform="rotate(90)"/><ellipse cx="2.76" cy="0" rx="1.93" ry="0.95" transform="rotate(150)"/><ellipse cx="2.76" cy="0" rx="1.93" ry="0.95" transform="rotate(210)"/><ellipse cx="2.76" cy="0" rx="1.93" ry="0.95" transform="rotate(270)"/><ellipse cx="2.76" cy="0" rx="1.93" ry="0.95" transform="rotate(330)"/><ellipse cx="2.76" cy="0" rx="1.93" ry="0.95" transform="rotate(30)"/><circle r="0.9"/></g>
<path d="M447.9 198.8V193.6H475.9V198.8" stroke="#858585" stroke-width="1.1" fill="none"/>
<g transform="translate(461.9 188.9)" fill="#ff1a1a"><ellipse cx="2.76" cy="0" rx="1.93" ry="0.95" transform="rotate(90)"/><ellipse cx="2.76" cy="0" rx="1.93" ry="0.95" transform="rotate(150)"/><ellipse cx="2.76" cy="0" rx="1.93" ry="0.95" transform="rotate(210)"/><ellipse cx="2.76" cy="0" rx="1.93" ry="0.95" transform="rotate(270)"/><ellipse cx="2.76" cy="0" rx="1.93" ry="0.95" transform="rotate(330)"/><ellipse cx="2.76" cy="0" rx="1.93" ry="0.95" transform="rotate(30)"/><circle r="0.9"/></g>
<path d="M473.5 242V236.8H501.5V242" stroke="#858585" stroke-width="1.1" fill="none"/>
<g transform="translate(487.5 232.1)" fill="#ff1a1a"><ellipse cx="2.76" cy="0" rx="1.93" ry="0.95" transform="rotate(90)"/><ellipse cx="2.76" cy="0" rx="1.93" ry="0.95" transform="rotate(150)"/><ellipse cx="2.76" cy="0" rx="1.93" ry="0.95" transform="rotate(210)"/><ellipse cx="2.76" cy="0" rx="1.93" ry="0.95" transform="rotate(270)"/><ellipse cx="2.76" cy="0" rx="1.93" ry="0.95" transform="rotate(330)"/><ellipse cx="2.76" cy="0" rx="1.93" ry="0.95" transform="rotate(30)"/><circle r="0.9"/></g>
<rect x="382.5" y="168.8" width="130.7" height="144.4" fill="none" stroke="#707070" stroke-width="1.1"/>
<text transform="translate(378.7 301.77) scale(0.97 1.06)" text-anchor="end" class="tk" font-size="13.5">4</text>
<text transform="translate(378.7 269.64) scale(0.97 1.06)" text-anchor="end" class="tk" font-size="13.5">8</text>
<text transform="translate(378.7 237.5) scale(0.97 1.06)" text-anchor="end" class="tk" font-size="13.5">12</text>
<text transform="translate(378.7 205.37) scale(0.97 1.06)" text-anchor="end" class="tk" font-size="13.5">16</text>
<text transform="translate(378.7 173.24) scale(0.97 1.06)" text-anchor="end" class="tk" font-size="13.5">20</text>
<path d="M379.8 297.37H382.5M379.8 265.24H382.5M379.8 233.1H382.5M379.8 200.97H382.5M379.8 168.84H382.5M380.9 281.3H382.5M380.9 249.17H382.5M380.9 217.04H382.5M380.9 184.91H382.5" stroke="#4a4a4a" stroke-width="1"/>
<text transform="translate(395.57 325.5) scale(0.95 1.03)" text-anchor="middle" class="ct" font-size="13">He</text>
<text transform="translate(421.71 325.5) scale(0.95 1.03)" text-anchor="middle" class="ct" font-size="13">In</text>
<text transform="translate(447.85 325.5) scale(0.95 1.03)" text-anchor="middle" class="ct" font-size="13">Mi</text>
<text transform="translate(473.99 325.5) scale(0.95 1.03)" text-anchor="middle" class="ct" font-size="13">Mo</text>
<text transform="translate(500.13 325.5) scale(0.95 1.03)" text-anchor="middle" class="ct" font-size="13">Se</text>
<text transform="translate(382.7 181.1) scale(1.0 0.98)" class="lb" font-size="15">(g)</text>
<text transform="translate(360.9 241.65) rotate(-90) scale(1.0 1.07)" text-anchor="middle" class="ti" font-size="16" textLength="46.41" lengthAdjust="spacingAndGlyphs">RARSb</text>
<path d="M567.09 198.8V197M567.09 194.9V194.9M563.79 198.8H570.39M563.79 194.9H570.39" stroke="#000" stroke-width="1.7" fill="none"/>
<rect x="562.29" y="194.9" width="9.6" height="2.1" fill="#007c06" stroke="#000" stroke-width="1.5"/>
<path d="M562.29 196H571.89" stroke="#000" stroke-width="1.5"/>
<circle cx="567.09" cy="190.7" r="1.3" fill="#fff" stroke="#1a1a1a" stroke-width="0.95"/>
<circle cx="567.09" cy="201.6" r="1.3" fill="#fff" stroke="#1a1a1a" stroke-width="0.95"/>
<path d="M593.07 203.7V199M593.07 195.9V191M589.77 203.7H596.37M589.77 191H596.37" stroke="#000" stroke-width="1.7" fill="none"/>
<rect x="588.27" y="195.9" width="9.6" height="3.1" fill="#c6dea4" stroke="#000" stroke-width="1.5"/>
<path d="M588.27 197.3H597.87" stroke="#000" stroke-width="1.5"/>
<circle cx="593.07" cy="189.3" r="1.3" fill="#fff" stroke="#1a1a1a" stroke-width="0.95"/>
<path d="M619.05 210.4V204M619.05 198.4V193.4M615.75 210.4H622.35M615.75 193.4H622.35" stroke="#000" stroke-width="1.7" fill="none"/>
<rect x="614.25" y="198.4" width="9.6" height="5.6" fill="#fee083" stroke="#000" stroke-width="1.5"/>
<path d="M614.25 201.1H623.85" stroke="#000" stroke-width="1.5"/>
<circle cx="619.05" cy="213.3" r="1.3" fill="#fff" stroke="#1a1a1a" stroke-width="0.95"/>
<circle cx="619.05" cy="216.2" r="1.3" fill="#fff" stroke="#1a1a1a" stroke-width="0.95"/>
<circle cx="619.05" cy="218.5" r="1.3" fill="#fff" stroke="#1a1a1a" stroke-width="0.95"/>
<path d="M645.03 268.9V239.9M645.03 217.7V209.4M641.73 268.9H648.33M641.73 209.4H648.33" stroke="#000" stroke-width="1.7" fill="none"/>
<rect x="640.23" y="217.7" width="9.6" height="22.2" fill="#f8952b" stroke="#000" stroke-width="1.5"/>
<path d="M640.23 230.6H649.83" stroke="#000" stroke-width="1.5"/>
<circle cx="645.03" cy="275.7" r="1.3" fill="#fff" stroke="#1a1a1a" stroke-width="0.95"/>
<circle cx="645.03" cy="278.6" r="1.3" fill="#fff" stroke="#1a1a1a" stroke-width="0.95"/>
<path d="M671.01 297.9V272.2M671.01 244.5V206.5M667.71 297.9H674.31M667.71 206.5H674.31" stroke="#000" stroke-width="1.7" fill="none"/>
<rect x="666.21" y="244.5" width="9.6" height="27.7" fill="#fe0000" stroke="#000" stroke-width="1.5"/>
<path d="M666.21 260.7H675.81" stroke="#000" stroke-width="1.5"/>
<path d="M593.1 185V179.6H620.5V185" stroke="#858585" stroke-width="1.1" fill="none"/>
<g transform="translate(606.8 174.9)" fill="#ff1a1a"><ellipse cx="2.76" cy="0" rx="1.93" ry="0.95" transform="rotate(90)"/><ellipse cx="2.76" cy="0" rx="1.93" ry="0.95" transform="rotate(150)"/><ellipse cx="2.76" cy="0" rx="1.93" ry="0.95" transform="rotate(210)"/><ellipse cx="2.76" cy="0" rx="1.93" ry="0.95" transform="rotate(270)"/><ellipse cx="2.76" cy="0" rx="1.93" ry="0.95" transform="rotate(330)"/><ellipse cx="2.76" cy="0" rx="1.93" ry="0.95" transform="rotate(30)"/><circle r="0.9"/></g>
<path d="M619.5 190.7V186.7H646.9V192.1" stroke="#858585" stroke-width="1.1" fill="none"/>
<g transform="translate(633.2 182)" fill="#ff1a1a"><ellipse cx="2.76" cy="0" rx="1.93" ry="0.95" transform="rotate(90)"/><ellipse cx="2.76" cy="0" rx="1.93" ry="0.95" transform="rotate(150)"/><ellipse cx="2.76" cy="0" rx="1.93" ry="0.95" transform="rotate(210)"/><ellipse cx="2.76" cy="0" rx="1.93" ry="0.95" transform="rotate(270)"/><ellipse cx="2.76" cy="0" rx="1.93" ry="0.95" transform="rotate(330)"/><ellipse cx="2.76" cy="0" rx="1.93" ry="0.95" transform="rotate(30)"/><circle r="0.9"/></g>
<path d="M645.1 202.7V197.3H672.5V202.7" stroke="#858585" stroke-width="1.1" fill="none"/>
<g transform="translate(658.8 192.6)" fill="#ff1a1a"><ellipse cx="2.76" cy="0" rx="1.93" ry="0.95" transform="rotate(90)"/><ellipse cx="2.76" cy="0" rx="1.93" ry="0.95" transform="rotate(150)"/><ellipse cx="2.76" cy="0" rx="1.93" ry="0.95" transform="rotate(210)"/><ellipse cx="2.76" cy="0" rx="1.93" ry="0.95" transform="rotate(270)"/><ellipse cx="2.76" cy="0" rx="1.93" ry="0.95" transform="rotate(330)"/><ellipse cx="2.76" cy="0" rx="1.93" ry="0.95" transform="rotate(30)"/><circle r="0.9"/></g>
<rect x="554.4" y="168.8" width="129.9" height="144.4" fill="none" stroke="#707070" stroke-width="1.1"/>
<text transform="translate(550.6 317.7) scale(0.97 1.06)" text-anchor="end" class="tk" font-size="13.5">0.0</text>
<text transform="translate(550.6 274.44) scale(0.97 1.06)" text-anchor="end" class="tk" font-size="13.5">0.3</text>
<text transform="translate(550.6 231.18) scale(0.97 1.06)" text-anchor="end" class="tk" font-size="13.5">0.6</text>
<text transform="translate(550.6 187.92) scale(0.97 1.06)" text-anchor="end" class="tk" font-size="13.5">0.9</text>
<path d="M551.7 313.3H554.4M551.7 270.04H554.4M551.7 226.78H554.4M551.7 183.52H554.4M552.8 291.67H554.4M552.8 248.41H554.4M552.8 205.15H554.4" stroke="#4a4a4a" stroke-width="1"/>
<text transform="translate(567.09 325.5) scale(0.95 1.03)" text-anchor="middle" class="ct" font-size="13">He</text>
<text transform="translate(593.07 325.5) scale(0.95 1.03)" text-anchor="middle" class="ct" font-size="13">In</text>
<text transform="translate(619.05 325.5) scale(0.95 1.03)" text-anchor="middle" class="ct" font-size="13">Mi</text>
<text transform="translate(645.03 325.5) scale(0.95 1.03)" text-anchor="middle" class="ct" font-size="13">Mo</text>
<text transform="translate(671.01 325.5) scale(0.95 1.03)" text-anchor="middle" class="ct" font-size="13">Se</text>
<text transform="translate(554.6 181.1) scale(1.0 0.98)" class="lb" font-size="15">(h)</text>
<text transform="translate(529.3 240.75) rotate(-90) scale(1.0 1.07)" text-anchor="middle" class="ti" font-size="16" textLength="46.52" lengthAdjust="spacingAndGlyphs">PSNDb</text>
<path d="M52.85 378.5V374.6M52.85 368.1V362.3M49.55 378.5H56.15M49.55 362.3H56.15" stroke="#000" stroke-width="1.7" fill="none"/>
<rect x="48.05" y="368.1" width="9.6" height="6.5" fill="#007c06" stroke="#000" stroke-width="1.5"/>
<path d="M48.05 371.5H57.65" stroke="#000" stroke-width="1.5"/>
<path d="M79.55 380.5V375.4M79.55 370.1V365.8M76.25 380.5H82.85M76.25 365.8H82.85" stroke="#000" stroke-width="1.7" fill="none"/>
<rect x="74.75" y="370.1" width="9.6" height="5.3" fill="#c6dea4" stroke="#000" stroke-width="1.5"/>
<path d="M74.75 372.6H84.35" stroke="#000" stroke-width="1.5"/>
<circle cx="79.55" cy="353.1" r="1.3" fill="#fff" stroke="#1a1a1a" stroke-width="0.95"/>
<circle cx="79.55" cy="356.1" r="1.3" fill="#fff" stroke="#1a1a1a" stroke-width="0.95"/>
<circle cx="79.55" cy="359.1" r="1.3" fill="#fff" stroke="#1a1a1a" stroke-width="0.95"/>
<circle cx="79.55" cy="362.1" r="1.3" fill="#fff" stroke="#1a1a1a" stroke-width="0.95"/>
<circle cx="79.55" cy="382.8" r="1.3" fill="#fff" stroke="#1a1a1a" stroke-width="0.95"/>
<circle cx="79.55" cy="384.2" r="1.3" fill="#fff" stroke="#1a1a1a" stroke-width="0.95"/>
<circle cx="79.55" cy="393.6" r="1.3" fill="#fff" stroke="#1a1a1a" stroke-width="0.95"/>
<circle cx="79.55" cy="397.5" r="1.3" fill="#fff" stroke="#1a1a1a" stroke-width="0.95"/>
<path d="M106.25 390.1V382.4M106.25 375.4V368.5M102.95 390.1H109.55M102.95 368.5H109.55" stroke="#000" stroke-width="1.7" fill="none"/>
<rect x="101.45" y="375.4" width="9.6" height="7" fill="#fee083" stroke="#000" stroke-width="1.5"/>
<path d="M101.45 378.9H111.05" stroke="#000" stroke-width="1.5"/>
<circle cx="106.25" cy="362.3" r="1.3" fill="#fff" stroke="#1a1a1a" stroke-width="0.95"/>
<circle cx="106.25" cy="365.2" r="1.3" fill="#fff" stroke="#1a1a1a" stroke-width="0.95"/>
<circle cx="106.25" cy="393.6" r="1.3" fill="#fff" stroke="#1a1a1a" stroke-width="0.95"/>
<circle cx="106.25" cy="396.1" r="1.3" fill="#fff" stroke="#1a1a1a" stroke-width="0.95"/>
<path d="M132.95 435.3V413.2M132.95 396.9V382.4M129.65 435.3H136.25M129.65 382.4H136.25" stroke="#000" stroke-width="1.7" fill="none"/>
<rect x="128.15" y="396.9" width="9.6" height="16.3" fill="#f8952b" stroke="#000" stroke-width="1.5"/>
<path d="M128.15 405.6H137.75" stroke="#000" stroke-width="1.5"/>
<circle cx="132.95" cy="445.1" r="1.3" fill="#fff" stroke="#1a1a1a" stroke-width="0.95"/>
<path d="M159.65 447.1V430M159.65 416.3V397.5M156.35 447.1H162.95M156.35 397.5H162.95" stroke="#000" stroke-width="1.7" fill="none"/>
<rect x="154.85" y="416.3" width="9.6" height="13.7" fill="#fe0000" stroke="#000" stroke-width="1.5"/>
<path d="M154.85 425H164.45" stroke="#000" stroke-width="1.5"/>
<circle cx="159.65" cy="376" r="1.3" fill="#fff" stroke="#1a1a1a" stroke-width="0.95"/>
<circle cx="159.65" cy="383.2" r="1.3" fill="#fff" stroke="#1a1a1a" stroke-width="0.95"/>
<circle cx="159.65" cy="385.2" r="1.3" fill="#fff" stroke="#1a1a1a" stroke-width="0.95"/>
<circle cx="159.65" cy="387.7" r="1.3" fill="#fff" stroke="#1a1a1a" stroke-width="0.95"/>
<circle cx="159.65" cy="390.6" r="1.3" fill="#fff" stroke="#1a1a1a" stroke-width="0.95"/>
<path d="M79.5 347.6V341.7H106.9V347.6" stroke="#858585" stroke-width="1.1" fill="none"/>
<g transform="translate(93.2 337)" fill="#ff1a1a"><ellipse cx="2.76" cy="0" rx="1.93" ry="0.95" transform="rotate(90)"/><ellipse cx="2.76" cy="0" rx="1.93" ry="0.95" transform="rotate(150)"/><ellipse cx="2.76" cy="0" rx="1.93" ry="0.95" transform="rotate(210)"/><ellipse cx="2.76" cy="0" rx="1.93" ry="0.95" transform="rotate(270)"/><ellipse cx="2.76" cy="0" rx="1.93" ry="0.95" transform="rotate(330)"/><ellipse cx="2.76" cy="0" rx="1.93" ry="0.95" transform="rotate(30)"/><circle r="0.9"/></g>
<path d="M106.5 356.4V350.1H133.9V356.4" stroke="#858585" stroke-width="1.1" fill="none"/>
<g transform="translate(120.2 345.4)" fill="#ff1a1a"><ellipse cx="2.76" cy="0" rx="1.93" ry="0.95" transform="rotate(90)"/><ellipse cx="2.76" cy="0" rx="1.93" ry="0.95" transform="rotate(150)"/><ellipse cx="2.76" cy="0" rx="1.93" ry="0.95" transform="rotate(210)"/><ellipse cx="2.76" cy="0" rx="1.93" ry="0.95" transform="rotate(270)"/><ellipse cx="2.76" cy="0" rx="1.93" ry="0.95" transform="rotate(330)"/><ellipse cx="2.76" cy="0" rx="1.93" ry="0.95" transform="rotate(30)"/><circle r="0.9"/></g>
<path d="M132.5 367.2V360.3H159.7V367.2" stroke="#858585" stroke-width="1.1" fill="none"/>
<g transform="translate(146.1 355.6)" fill="#ff1a1a"><ellipse cx="2.76" cy="0" rx="1.93" ry="0.95" transform="rotate(90)"/><ellipse cx="2.76" cy="0" rx="1.93" ry="0.95" transform="rotate(150)"/><ellipse cx="2.76" cy="0" rx="1.93" ry="0.95" transform="rotate(210)"/><ellipse cx="2.76" cy="0" rx="1.93" ry="0.95" transform="rotate(270)"/><ellipse cx="2.76" cy="0" rx="1.93" ry="0.95" transform="rotate(330)"/><ellipse cx="2.76" cy="0" rx="1.93" ry="0.95" transform="rotate(30)"/><circle r="0.9"/></g>
<rect x="39.5" y="330.8" width="133.5" height="148.4" fill="none" stroke="#707070" stroke-width="1.1"/>
<text transform="translate(35.7 342.62) scale(0.97 1.06)" text-anchor="end" class="tk" font-size="13.5">0.1</text>
<text transform="translate(35.7 377.75) scale(0.97 1.06)" text-anchor="end" class="tk" font-size="13.5">0.0</text>
<text transform="translate(35.7 412.88) scale(0.97 1.06)" text-anchor="end" class="tk" font-size="13.5">-0.1</text>
<text transform="translate(35.7 448) scale(0.97 1.06)" text-anchor="end" class="tk" font-size="13.5">-0.2</text>
<text transform="translate(35.7 483.12) scale(0.97 1.06)" text-anchor="end" class="tk" font-size="13.5">-0.3</text>
<path d="M36.8 338.23H39.5M36.8 373.35H39.5M36.8 408.48H39.5M36.8 443.6H39.5M36.8 478.73H39.5M37.9 355.79H39.5M37.9 390.91H39.5M37.9 426.04H39.5M37.9 461.16H39.5" stroke="#4a4a4a" stroke-width="1"/>
<text transform="translate(52.85 490.7) scale(0.95 1.03)" text-anchor="middle" class="ct" font-size="13">He</text>
<text transform="translate(79.55 490.7) scale(0.95 1.03)" text-anchor="middle" class="ct" font-size="13">In</text>
<text transform="translate(106.25 490.7) scale(0.95 1.03)" text-anchor="middle" class="ct" font-size="13">Mi</text>
<text transform="translate(132.95 490.7) scale(0.95 1.03)" text-anchor="middle" class="ct" font-size="13">Mo</text>
<text transform="translate(159.65 490.7) scale(0.95 1.03)" text-anchor="middle" class="ct" font-size="13">Se</text>
<text transform="translate(39.7 344.1) scale(1.0 0.98)" class="lb" font-size="15">(i)</text>
<text transform="translate(10.6 404.9) rotate(-90) scale(1.0 1.07)" text-anchor="middle" class="ti" font-size="16" textLength="23.65" lengthAdjust="spacingAndGlyphs">PRI</text>
<path d="M223.67 370.4V368.9M223.67 366.7V366.7M220.37 370.4H226.97M220.37 366.7H226.97" stroke="#000" stroke-width="1.7" fill="none"/>
<rect x="218.87" y="366.7" width="9.6" height="2.2" fill="#007c06" stroke="#000" stroke-width="1.5"/>
<path d="M218.87 367.9H228.47" stroke="#000" stroke-width="1.5"/>
<circle cx="223.67" cy="362.7" r="1.3" fill="#fff" stroke="#1a1a1a" stroke-width="0.95"/>
<circle cx="223.67" cy="372.5" r="1.3" fill="#fff" stroke="#1a1a1a" stroke-width="0.95"/>
<path d="M249.81 374.3V370M249.81 367.7V363.4M246.51 374.3H253.11M246.51 363.4H253.11" stroke="#000" stroke-width="1.7" fill="none"/>
<rect x="245.01" y="367.7" width="9.6" height="2.3" fill="#c6dea4" stroke="#000" stroke-width="1.5"/>
<path d="M245.01 368.5H254.61" stroke="#000" stroke-width="1.5"/>
<circle cx="249.81" cy="358.6" r="1.3" fill="#fff" stroke="#1a1a1a" stroke-width="0.95"/>
<circle cx="249.81" cy="361" r="1.3" fill="#fff" stroke="#1a1a1a" stroke-width="0.95"/>
<path d="M275.95 381.1V374.9M275.95 370.1V365.7M272.65 381.1H279.25M272.65 365.7H279.25" stroke="#000" stroke-width="1.7" fill="none"/>
<rect x="271.15" y="370.1" width="9.6" height="4.8" fill="#fee083" stroke="#000" stroke-width="1.5"/>
<path d="M271.15 372.4H280.75" stroke="#000" stroke-width="1.5"/>
<circle cx="275.95" cy="384" r="1.3" fill="#fff" stroke="#1a1a1a" stroke-width="0.95"/>
<circle cx="275.95" cy="384.9" r="1.3" fill="#fff" stroke="#1a1a1a" stroke-width="0.95"/>
<path d="M302.09 409.2V398.4M302.09 383.6V378.6M298.79 409.2H305.39M298.79 378.6H305.39" stroke="#000" stroke-width="1.7" fill="none"/>
<rect x="297.29" y="383.6" width="9.6" height="14.8" fill="#f8952b" stroke="#000" stroke-width="1.5"/>
<path d="M297.29 387.4H306.89" stroke="#000" stroke-width="1.5"/>
<circle cx="302.09" cy="427.5" r="1.3" fill="#fff" stroke="#1a1a1a" stroke-width="0.95"/>
<circle cx="302.09" cy="433.9" r="1.3" fill="#fff" stroke="#1a1a1a" stroke-width="0.95"/>
<circle cx="302.09" cy="436.4" r="1.3" fill="#fff" stroke="#1a1a1a" stroke-width="0.95"/>
<path d="M328.23 462.8V430.1M328.23 399.4V376.6M324.93 462.8H331.53M324.93 376.6H331.53" stroke="#000" stroke-width="1.7" fill="none"/>
<rect x="323.43" y="399.4" width="9.6" height="30.7" fill="#fe0000" stroke="#000" stroke-width="1.5"/>
<path d="M323.43 414.1H333.03" stroke="#000" stroke-width="1.5"/>
<path d="M249.5 352.2V344.8H276.5V352.2" stroke="#858585" stroke-width="1.1" fill="none"/>
<g transform="translate(263 340.1)" fill="#ff1a1a"><ellipse cx="2.76" cy="0" rx="1.93" ry="0.95" transform="rotate(90)"/><ellipse cx="2.76" cy="0" rx="1.93" ry="0.95" transform="rotate(150)"/><ellipse cx="2.76" cy="0" rx="1.93" ry="0.95" transform="rotate(210)"/><ellipse cx="2.76" cy="0" rx="1.93" ry="0.95" transform="rotate(270)"/><ellipse cx="2.76" cy="0" rx="1.93" ry="0.95" transform="rotate(330)"/><ellipse cx="2.76" cy="0" rx="1.93" ry="0.95" transform="rotate(30)"/><circle r="0.9"/></g>
<path d="M276.1 362.8V357.6H303.1V362.8" stroke="#858585" stroke-width="1.1" fill="none"/>
<g transform="translate(289.6 352.9)" fill="#ff1a1a"><ellipse cx="2.76" cy="0" rx="1.93" ry="0.95" transform="rotate(90)"/><ellipse cx="2.76" cy="0" rx="1.93" ry="0.95" transform="rotate(150)"/><ellipse cx="2.76" cy="0" rx="1.93" ry="0.95" transform="rotate(210)"/><ellipse cx="2.76" cy="0" rx="1.93" ry="0.95" transform="rotate(270)"/><ellipse cx="2.76" cy="0" rx="1.93" ry="0.95" transform="rotate(330)"/><ellipse cx="2.76" cy="0" rx="1.93" ry="0.95" transform="rotate(30)"/><circle r="0.9"/></g>
<path d="M302.5 374.7V369.5H329.5V374.7" stroke="#858585" stroke-width="1.1" fill="none"/>
<g transform="translate(316 364.8)" fill="#ff1a1a"><ellipse cx="2.76" cy="0" rx="1.93" ry="0.95" transform="rotate(90)"/><ellipse cx="2.76" cy="0" rx="1.93" ry="0.95" transform="rotate(150)"/><ellipse cx="2.76" cy="0" rx="1.93" ry="0.95" transform="rotate(210)"/><ellipse cx="2.76" cy="0" rx="1.93" ry="0.95" transform="rotate(270)"/><ellipse cx="2.76" cy="0" rx="1.93" ry="0.95" transform="rotate(330)"/><ellipse cx="2.76" cy="0" rx="1.93" ry="0.95" transform="rotate(30)"/><circle r="0.9"/></g>
<rect x="210.6" y="330.8" width="130.7" height="148.4" fill="none" stroke="#707070" stroke-width="1.1"/>
<text transform="translate(206.8 483.45) scale(0.97 1.06)" text-anchor="end" class="tk" font-size="13.5">0.0</text>
<text transform="translate(206.8 443.01) scale(0.97 1.06)" text-anchor="end" class="tk" font-size="13.5">0.3</text>
<text transform="translate(206.8 402.57) scale(0.97 1.06)" text-anchor="end" class="tk" font-size="13.5">0.6</text>
<text transform="translate(206.8 362.13) scale(0.97 1.06)" text-anchor="end" class="tk" font-size="13.5">0.9</text>
<path d="M207.9 479.05H210.6M207.9 438.61H210.6M207.9 398.17H210.6M207.9 357.73H210.6M209 458.83H210.6M209 418.39H210.6M209 377.95H210.6M209 337.51H210.6" stroke="#4a4a4a" stroke-width="1"/>
<text transform="translate(223.67 490.7) scale(0.95 1.03)" text-anchor="middle" class="ct" font-size="13">He</text>
<text transform="translate(249.81 490.7) scale(0.95 1.03)" text-anchor="middle" class="ct" font-size="13">In</text>
<text transform="translate(275.95 490.7) scale(0.95 1.03)" text-anchor="middle" class="ct" font-size="13">Mi</text>
<text transform="translate(302.09 490.7) scale(0.95 1.03)" text-anchor="middle" class="ct" font-size="13">Mo</text>
<text transform="translate(328.23 490.7) scale(0.95 1.03)" text-anchor="middle" class="ct" font-size="13">Se</text>
<text transform="translate(210.8 344.1) scale(1.0 0.98)" class="lb" font-size="15">(j)</text>
<text transform="translate(187.5 404.7) rotate(-90) scale(1.0 1.07)" text-anchor="middle" class="ti" font-size="16">NDVI</text>
<path d="M395.57 390.7V386.9M395.57 373.4V367.6M392.27 390.7H398.87M392.27 367.6H398.87" stroke="#000" stroke-width="1.7" fill="none"/>
<rect x="390.77" y="373.4" width="9.6" height="13.5" fill="#007c06" stroke="#000" stroke-width="1.5"/>
<path d="M390.77 382H400.37" stroke="#000" stroke-width="1.5"/>
<path d="M421.71 410.8V398.4M421.71 387.8V373.9M418.41 410.8H425.01M418.41 373.9H425.01" stroke="#000" stroke-width="1.7" fill="none"/>
<rect x="416.91" y="387.8" width="9.6" height="10.6" fill="#c6dea4" stroke="#000" stroke-width="1.5"/>
<path d="M416.91 392.6H426.51" stroke="#000" stroke-width="1.5"/>
<circle cx="421.71" cy="365.7" r="1.3" fill="#fff" stroke="#1a1a1a" stroke-width="0.95"/>
<circle cx="421.71" cy="368.5" r="1.3" fill="#fff" stroke="#1a1a1a" stroke-width="0.95"/>
<circle cx="421.71" cy="370.5" r="1.3" fill="#fff" stroke="#1a1a1a" stroke-width="0.95"/>
<circle cx="421.71" cy="418.1" r="1.3" fill="#fff" stroke="#1a1a1a" stroke-width="0.95"/>
<circle cx="421.71" cy="425.2" r="1.3" fill="#fff" stroke="#1a1a1a" stroke-width="0.95"/>
<path d="M447.85 442.2V415.5M447.85 398.4V379.7M444.55 442.2H451.15M444.55 379.7H451.15" stroke="#000" stroke-width="1.7" fill="none"/>
<rect x="443.05" y="398.4" width="9.6" height="17.1" fill="#fee083" stroke="#000" stroke-width="1.5"/>
<path d="M443.05 405.3H452.65" stroke="#000" stroke-width="1.5"/>
<path d="M473.99 462.4V446.8M473.99 427.2V411.4M470.69 462.4H477.29M470.69 411.4H477.29" stroke="#000" stroke-width="1.7" fill="none"/>
<rect x="469.19" y="427.2" width="9.6" height="19.6" fill="#f8952b" stroke="#000" stroke-width="1.5"/>
<path d="M469.19 440.1H478.79" stroke="#000" stroke-width="1.5"/>
<path d="M500.13 467.2V459M500.13 448.9V438.3M496.83 467.2H503.43M496.83 438.3H503.43" stroke="#000" stroke-width="1.7" fill="none"/>
<rect x="495.33" y="448.9" width="9.6" height="10.1" fill="#fe0000" stroke="#000" stroke-width="1.5"/>
<path d="M495.33 454.1H504.93" stroke="#000" stroke-width="1.5"/>
<circle cx="500.13" cy="413.7" r="1.3" fill="#fff" stroke="#1a1a1a" stroke-width="0.95"/>
<circle cx="500.13" cy="425.2" r="1.3" fill="#fff" stroke="#1a1a1a" stroke-width="0.95"/>
<circle cx="500.13" cy="430.4" r="1.3" fill="#fff" stroke="#1a1a1a" stroke-width="0.95"/>
<circle cx="500.13" cy="432.9" r="1.3" fill="#fff" stroke="#1a1a1a" stroke-width="0.95"/>
<path d="M395.1 353.5V347.9H422.1V353.5" stroke="#858585" stroke-width="1.1" fill="none"/>
<g transform="translate(408.6 343.2)" fill="#ff1a1a"><ellipse cx="2.76" cy="0" rx="1.93" ry="0.95" transform="rotate(90)"/><ellipse cx="2.76" cy="0" rx="1.93" ry="0.95" transform="rotate(150)"/><ellipse cx="2.76" cy="0" rx="1.93" ry="0.95" transform="rotate(210)"/><ellipse cx="2.76" cy="0" rx="1.93" ry="0.95" transform="rotate(270)"/><ellipse cx="2.76" cy="0" rx="1.93" ry="0.95" transform="rotate(330)"/><ellipse cx="2.76" cy="0" rx="1.93" ry="0.95" transform="rotate(30)"/><circle r="0.9"/></g>
<path d="M422.1 363.7V357.9H449.5V363.1" stroke="#858585" stroke-width="1.1" fill="none"/>
<g transform="translate(435.8 353.2)" fill="#ff1a1a"><ellipse cx="2.76" cy="0" rx="1.93" ry="0.95" transform="rotate(90)"/><ellipse cx="2.76" cy="0" rx="1.93" ry="0.95" transform="rotate(150)"/><ellipse cx="2.76" cy="0" rx="1.93" ry="0.95" transform="rotate(210)"/><ellipse cx="2.76" cy="0" rx="1.93" ry="0.95" transform="rotate(270)"/><ellipse cx="2.76" cy="0" rx="1.93" ry="0.95" transform="rotate(330)"/><ellipse cx="2.76" cy="0" rx="1.93" ry="0.95" transform="rotate(30)"/><circle r="0.9"/></g>
<path d="M448.1 374.7V368.9H475.1V374.7" stroke="#858585" stroke-width="1.1" fill="none"/>
<g transform="translate(461.6 364.2)" fill="#ff1a1a"><ellipse cx="2.76" cy="0" rx="1.93" ry="0.95" transform="rotate(90)"/><ellipse cx="2.76" cy="0" rx="1.93" ry="0.95" transform="rotate(150)"/><ellipse cx="2.76" cy="0" rx="1.93" ry="0.95" transform="rotate(210)"/><ellipse cx="2.76" cy="0" rx="1.93" ry="0.95" transform="rotate(270)"/><ellipse cx="2.76" cy="0" rx="1.93" ry="0.95" transform="rotate(330)"/><ellipse cx="2.76" cy="0" rx="1.93" ry="0.95" transform="rotate(30)"/><circle r="0.9"/></g>
<path d="M474.5 391.3V385.9H501.5V391.3" stroke="#858585" stroke-width="1.1" fill="none"/>
<g transform="translate(488 381.2)" fill="#ff1a1a"><ellipse cx="2.76" cy="0" rx="1.93" ry="0.95" transform="rotate(90)"/><ellipse cx="2.76" cy="0" rx="1.93" ry="0.95" transform="rotate(150)"/><ellipse cx="2.76" cy="0" rx="1.93" ry="0.95" transform="rotate(210)"/><ellipse cx="2.76" cy="0" rx="1.93" ry="0.95" transform="rotate(270)"/><ellipse cx="2.76" cy="0" rx="1.93" ry="0.95" transform="rotate(330)"/><ellipse cx="2.76" cy="0" rx="1.93" ry="0.95" transform="rotate(30)"/><circle r="0.9"/></g>
<rect x="382.5" y="330.8" width="130.7" height="146.6" fill="none" stroke="#707070" stroke-width="1.1"/>
<text transform="translate(378.7 482.23) scale(0.97 1.06)" text-anchor="end" class="tk" font-size="13.5">0</text>
<text transform="translate(378.7 452.9) scale(0.97 1.06)" text-anchor="end" class="tk" font-size="13.5">1</text>
<text transform="translate(378.7 423.57) scale(0.97 1.06)" text-anchor="end" class="tk" font-size="13.5">2</text>
<text transform="translate(378.7 394.24) scale(0.97 1.06)" text-anchor="end" class="tk" font-size="13.5">3</text>
<text transform="translate(378.7 364.91) scale(0.97 1.06)" text-anchor="end" class="tk" font-size="13.5">4</text>
<text transform="translate(378.7 335.58) scale(0.97 1.06)" text-anchor="end" class="tk" font-size="13.5">5</text>
<path d="M379.8 477.83H382.5M379.8 448.5H382.5M379.8 419.17H382.5M379.8 389.84H382.5M379.8 360.51H382.5M379.8 331.18H382.5M380.9 463.16H382.5M380.9 433.83H382.5M380.9 404.5H382.5M380.9 375.17H382.5M380.9 345.85H382.5" stroke="#4a4a4a" stroke-width="1"/>
<text transform="translate(395.57 490.7) scale(0.95 1.03)" text-anchor="middle" class="ct" font-size="13">He</text>
<text transform="translate(421.71 490.7) scale(0.95 1.03)" text-anchor="middle" class="ct" font-size="13">In</text>
<text transform="translate(447.85 490.7) scale(0.95 1.03)" text-anchor="middle" class="ct" font-size="13">Mi</text>
<text transform="translate(473.99 490.7) scale(0.95 1.03)" text-anchor="middle" class="ct" font-size="13">Mo</text>
<text transform="translate(500.13 490.7) scale(0.95 1.03)" text-anchor="middle" class="ct" font-size="13">Se</text>
<text transform="translate(382.7 344.1) scale(1.0 0.98)" class="lb" font-size="15">(k)</text>
<text transform="translate(360.9 404.55) rotate(-90) scale(1.0 1.07)" text-anchor="middle" class="ti" font-size="16">AMBI</text>
<rect x="554.55" y="343.85" width="25.9" height="9.8" fill="#007c06" stroke="#000" stroke-width="1.5"/>
<text x="584.2" y="353" class="sans" font-size="12" textLength="60.1" lengthAdjust="spacingAndGlyphs">He(Healthy)</text>
<rect x="554.55" y="360.15" width="25.9" height="9.8" fill="#c6dea4" stroke="#000" stroke-width="1.5"/>
<text x="584.2" y="368.7" class="sans" font-size="12" textLength="47.2" lengthAdjust="spacingAndGlyphs">In(Initial)</text>
<rect x="554.55" y="376.45" width="25.9" height="9.8" fill="#fee083" stroke="#000" stroke-width="1.5"/>
<text x="584.2" y="384.9" class="sans" font-size="12" textLength="45.1" lengthAdjust="spacingAndGlyphs">Mi(Mild)</text>
<rect x="554.55" y="392.75" width="25.9" height="9.8" fill="#f8952b" stroke="#000" stroke-width="1.5"/>
<text x="584.2" y="400.8" class="sans" font-size="12" textLength="70.5" lengthAdjust="spacingAndGlyphs">Mo(Moderate)</text>
<rect x="554.55" y="409.05" width="25.9" height="9.8" fill="#fe0000" stroke="#000" stroke-width="1.5"/>
<text x="584.2" y="417.1" class="sans" font-size="12" textLength="51.9" lengthAdjust="spacingAndGlyphs">Se(Severe)</text>
<g transform="translate(567.1 431.2)" fill="#ff1a1a"><ellipse cx="2.91" cy="0" rx="2.04" ry="0.95" transform="rotate(90)"/><ellipse cx="2.91" cy="0" rx="2.04" ry="0.95" transform="rotate(150)"/><ellipse cx="2.91" cy="0" rx="2.04" ry="0.95" transform="rotate(210)"/><ellipse cx="2.91" cy="0" rx="2.04" ry="0.95" transform="rotate(270)"/><ellipse cx="2.91" cy="0" rx="2.04" ry="0.95" transform="rotate(330)"/><ellipse cx="2.91" cy="0" rx="2.04" ry="0.95" transform="rotate(30)"/><circle r="0.9"/></g>
<text x="584.6" y="434.8" class="sans" font-size="12" textLength="77" lengthAdjust="spacingAndGlyphs">T-test: (P&lt;0.01)</text>
<g transform="translate(567.1 449)" fill="#222"><ellipse cx="2.91" cy="0" rx="2.04" ry="0.95" transform="rotate(90)"/><ellipse cx="2.91" cy="0" rx="2.04" ry="0.95" transform="rotate(150)"/><ellipse cx="2.91" cy="0" rx="2.04" ry="0.95" transform="rotate(210)"/><ellipse cx="2.91" cy="0" rx="2.04" ry="0.95" transform="rotate(270)"/><ellipse cx="2.91" cy="0" rx="2.04" ry="0.95" transform="rotate(330)"/><ellipse cx="2.91" cy="0" rx="2.04" ry="0.95" transform="rotate(30)"/><circle r="0.9"/></g>
<text x="584.6" y="452.4" class="sans" font-size="12" textLength="77" lengthAdjust="spacingAndGlyphs">T-test: (P&lt;0.05)</text>
</svg></body></html>
